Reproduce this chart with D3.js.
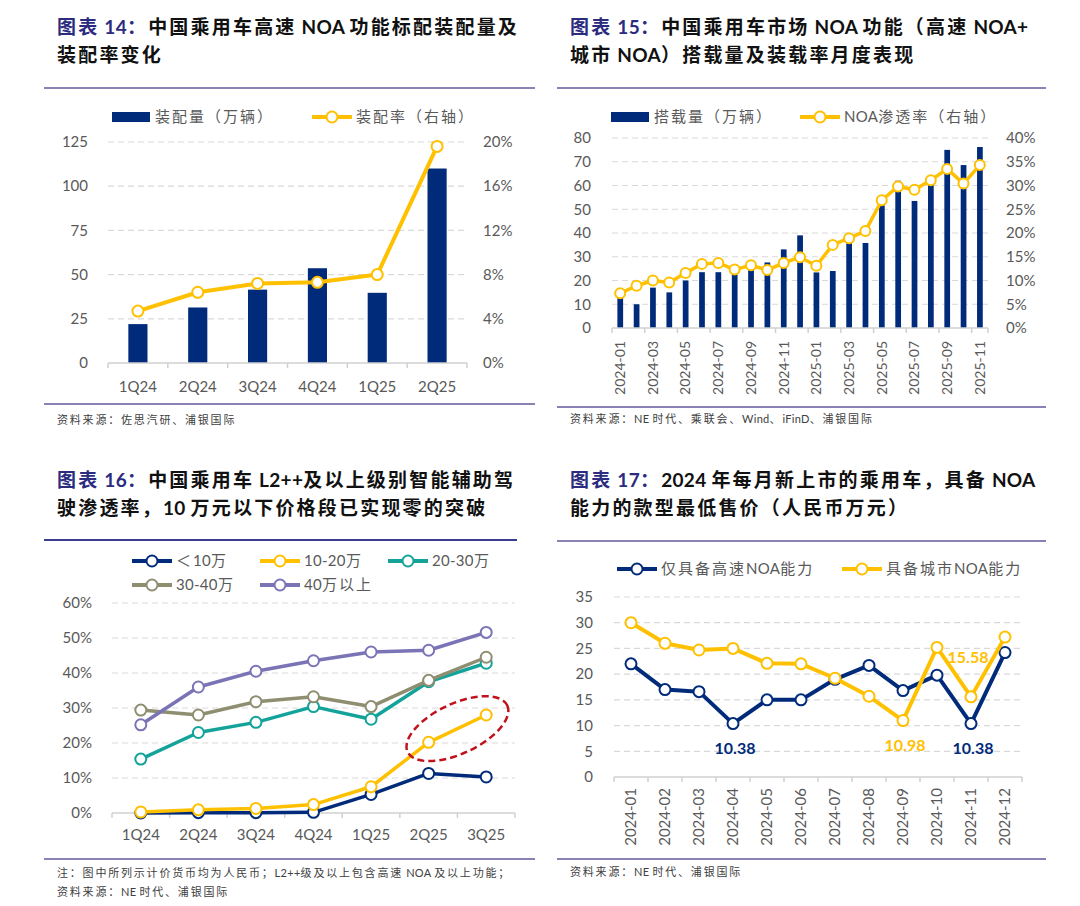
<!DOCTYPE html>
<html>
<head>
<meta charset="utf-8">
<script src="https://cdn.jsdelivr.net/npm/d3@7"></script>
<style>body{margin:0;background:#fff}</style>
</head>
<body>
<script>
// ---- data ----
const quarters14 = ['1Q24','2Q24','3Q24','4Q24','1Q25','2Q25'];
const install14 = [22, 31.4, 41.5, 53.6, 39.7, 110];      // 万辆
const rate14 = [4.7, 6.4, 7.2, 7.3, 8.0, 19.6];           // %
const ticks14L = [0,25,50,75,100,125];
const ticks14R = [0,4,8,12,16,20];

const months15 = ['2024-01','2024-02','2024-03','2024-04','2024-05','2024-06','2024-07','2024-08',
  '2024-09','2024-10','2024-11','2024-12','2025-01','2025-02','2025-03','2025-04','2025-05',
  '2025-06','2025-07','2025-08','2025-09','2025-10','2025-11'];
const volume15 = [13,10,17,15,20,23.5,23.5,23,25.5,27.6,33.1,39,23.4,24,36,35.8,51.8,62,53.5,61,75,68.6,76.2];
const pen15 = [7.3,8.9,10,9.6,11.6,13.5,13.7,12.3,13.2,12.2,13.7,14.9,13.1,17.5,18.9,20.4,26.9,29.8,29.1,31.1,33.5,30.4,34.3];
const ticks15L = [0,10,20,30,40,50,60,70,80];
const ticks15R = [0,5,10,15,20,25,30,35,40];

const quarters16 = ['1Q24','2Q24','3Q24','4Q24','1Q25','2Q25','3Q25'];
const names16 = ['＜10万','10-20万','20-30万','30-40万','40万以上'];
const under10 = [0,0.1,0.1,0.2,5.3,11.3,10.3];
const from10to20 = [0.3,0.9,1.3,2.4,7.5,20.2,28];
const from20to30 = [15.4,23,25.9,30.4,26.8,37.5,42.8];
const from30to40 = [29.4,28,31.8,33.2,30.4,37.9,44.5];
const over40 = [25.2,36,40.5,43.5,46,46.5,51.6];
const ticks16 = [0,10,20,30,40,50,60];

const months17 = ['2024-01','2024-02','2024-03','2024-04','2024-05','2024-06','2024-07','2024-08',
  '2024-09','2024-10','2024-11','2024-12'];
const names17 = ['仅具备高速NOA能力','具备城市NOA能力'];
const highway17 = [22,17,16.6,10.38,15,15,19,21.7,16.8,19.8,10.38,24.2];
const city17 = [30,26,24.7,25,22.1,22,19.2,15.7,10.98,25.2,15.58,27.2];
const ticks17 = [0,5,10,15,20,25,30,35];

// ---- style ----
const SANS = "Lato, 'Noto Sans CJK SC', sans-serif";
const NAVY = '#002a7a', GOLD = '#ffc000', TEAL = '#13a39a', OLIVE = '#8f8e70', PURPLE = '#7a73b6';
const GRID = '#d9d9d9', AX = '#595959', RULE = '#8a82b5';

const svg = d3.select('body').append('svg')
  .attr('width', 1080).attr('height', 906)
  .style('display', 'block')
  .attr('font-family', SANS);

// ---- helpers ----
// CJK runs get letter-spacing, latin runs stay tight
function spaced(t, str, ls){
  const runs = str.match(/[\u3000-\u9fff\uff00-\uffef]+|[^\u3000-\u9fff\uff00-\uffef]+/g) || [];
  runs.forEach(r => {
    const cjk = /[\u3000-\u9fff\uff00-\uffef]/.test(r);
    t.append('tspan').attr('letter-spacing', cjk ? ls : 0.3).text(r);
  });
  return t;
}
function title(x, y, label, l1, l2){
  const t = svg.append('text').attr('x', x).attr('y', y)
    .attr('font-weight', 'bold').attr('font-size', 19).attr('fill', '#111');
  spaced(t.append('tspan').attr('fill', '#2b2b80'), label, 2.2);
  spaced(t, l1, 2.2);
  const t2 = svg.append('text').attr('x', x).attr('y', y + 28)
    .attr('font-weight', 'bold').attr('font-size', 19).attr('fill', '#111');
  spaced(t2, l2, 2.2);
}
function rule(x1, x2, y, c){
  svg.append('line').attr('x1', x1).attr('x2', x2).attr('y1', y).attr('y2', y)
    .attr('stroke', c || RULE).attr('stroke-width', 2);
}
function note(x, y, s){
  const t = svg.append('text').attr('x', x).attr('y', y)
    .attr('font-size', 11).attr('fill', '#404040');
  spaced(t, s, 1.8);
}
function grid(g, y, ticks, x0, x1){
  g.selectAll(null).data(ticks.filter(d => d !== 0)).join('line')
    .attr('x1', x0).attr('x2', x1).attr('y1', d => y(d)).attr('y2', d => y(d))
    .attr('stroke', GRID).attr('stroke-width', 1.2).attr('stroke-dasharray', '6,4');
}
function yLabels(g, y, ticks, x, anchor, fmt){
  g.selectAll(null).data(ticks).join('text')
    .attr('x', x).attr('y', d => y(d)).attr('dy', '0.35em')
    .attr('text-anchor', anchor).attr('font-size', 15).attr('fill', AX)
    .text(fmt);
}
function bandAxis(g, x, y0, every){
  const r = x.range();
  g.append('line').attr('x1', r[0]).attr('x2', r[1]).attr('y1', y0).attr('y2', y0)
    .attr('stroke', '#d0d0d0').attr('stroke-width', 1.5);
  const dom = x.domain();
  const b = dom.filter((d, i) => i % every === 0).map(d => x(d));
  b.push(r[1]);
  g.selectAll(null).data(b).join('line')
    .attr('x1', d => d).attr('x2', d => d).attr('y1', y0).attr('y2', y0 + 5)
    .attr('stroke', '#d0d0d0').attr('stroke-width', 1.5);
}
function series(g, x, y, cats, vals, color, w, r){
  const cx = (d, i) => x(cats[i]) + x.bandwidth() / 2;
  g.append('path').datum(vals)
    .attr('d', d3.line().x(cx).y(d => y(d)))
    .attr('fill', 'none').attr('stroke', color).attr('stroke-width', w)
    .attr('stroke-linejoin', 'round');
  g.selectAll(null).data(vals).join('circle')
    .attr('cx', cx).attr('cy', d => y(d)).attr('r', r)
    .attr('fill', '#fff').attr('stroke', color).attr('stroke-width', 2);
}
function legendLine(g, x, y, color, label, w){
  g.append('line').attr('x1', x).attr('x2', x + 40).attr('y1', y).attr('y2', y)
    .attr('stroke', color).attr('stroke-width', w);
  g.append('circle').attr('cx', x + 20).attr('cy', y).attr('r', 5.5)
    .attr('fill', '#fff').attr('stroke', color).attr('stroke-width', 2);
  const t = g.append('text').attr('x', x + 44).attr('y', y).attr('dy', '0.35em')
    .attr('font-size', 15).attr('fill', AX);
  spaced(t, label, 2);
}
function legendBar(g, x, y, color, label){
  g.append('rect').attr('x', x).attr('y', y - 5).attr('width', 38).attr('height', 10).attr('fill', color);
  const t = g.append('text').attr('x', x + 43).attr('y', y).attr('dy', '0.35em')
    .attr('font-size', 15).attr('fill', AX);
  spaced(t, label, 2);
}

// ---- 图表 14 ----
title(57, 34, '图表 14：', '中国乘用车高速 NOA 功能标配装配量及', '装配率变化');
rule(44, 535, 88);
const g14 = svg.append('g');
const x14 = d3.scaleBand().domain(quarters14).range([108, 467]);
const yL14 = d3.scaleLinear().domain([0, 125]).range([363, 142]);
const yR14 = d3.scaleLinear().domain([0, 20]).range([363, 142]);
grid(g14, yL14, ticks14L, 108, 467);
g14.selectAll(null).data(install14).join('rect')
  .attr('x', (d, i) => x14(quarters14[i]) + x14.bandwidth() * 0.34)
  .attr('width', x14.bandwidth() * 0.32)
  .attr('y', d => yL14(d)).attr('height', d => yL14(0) - yL14(d))
  .attr('fill', NAVY);
bandAxis(g14, x14, 363, 1);
series(g14, x14, yR14, quarters14, rate14, GOLD, 4, 5.5);
yLabels(g14, yL14, ticks14L, 88, 'end', d => d);
yLabels(g14, yR14, ticks14R, 483, 'start', d => d + '%');
g14.selectAll(null).data(quarters14).join('text')
  .attr('x', d => x14(d) + x14.bandwidth() / 2).attr('y', 392)
  .attr('text-anchor', 'middle').attr('font-size', 15).attr('fill', AX).text(d => d);
legendBar(g14, 112, 117, NAVY, '装配量（万辆）');
legendLine(g14, 312, 117, GOLD, '装配率（右轴）', 4);
rule(44, 535, 404);
note(57, 424, '资料来源：佐思汽研、浦银国际');

// ---- 图表 15 ----
title(570, 34, '图表 15：', '中国乘用车市场 NOA 功能（高速 NOA+', '城市 NOA）搭载量及装载率月度表现');
rule(557, 1046, 88);
const g15 = svg.append('g');
const x15 = d3.scaleBand().domain(months15).range([612, 988]);
const yL15 = d3.scaleLinear().domain([0, 80]).range([328, 138]);
const yR15 = d3.scaleLinear().domain([0, 40]).range([328, 138]);
grid(g15, yL15, ticks15L, 612, 988);
g15.selectAll(null).data(volume15).join('rect')
  .attr('x', (d, i) => x15(months15[i]) + x15.bandwidth() * 0.33)
  .attr('width', x15.bandwidth() * 0.35)
  .attr('y', d => yL15(d)).attr('height', d => yL15(0) - yL15(d))
  .attr('fill', NAVY);
bandAxis(g15, x15, 328, 2);
series(g15, x15, yR15, months15, pen15, GOLD, 3.5, 5);
yLabels(g15, yL15, ticks15L, 591, 'end', d => d);
yLabels(g15, yR15, ticks15R, 1006, 'start', d => d + '%');
g15.selectAll(null).data(months15.filter((d, i) => i % 2 === 0)).join('text')
  .attr('transform', d => `translate(${x15(d) + x15.bandwidth() / 2},341) rotate(-90)`)
  .attr('text-anchor', 'end').attr('dy', '0.35em')
  .attr('font-size', 14).attr('fill', AX).text(d => d);
legendBar(g15, 611, 117, NAVY, '搭载量（万辆）');
legendLine(g15, 800, 117, GOLD, 'NOA渗透率（右轴）', 4);
rule(557, 1046, 407);
note(570, 423, '资料来源：NE 时代、乘联会、Wind、iFinD、浦银国际');

// ---- 图表 16 ----
title(57, 487, '图表 16：', '中国乘用车 L2++及以上级别智能辅助驾', '驶渗透率，10 万元以下价格段已实现零的突破');
rule(44, 517, 540, '#3d3d8f');
const g16 = svg.append('g');
const x16 = d3.scaleBand().domain(quarters16).range([112, 515]);
const y16 = d3.scaleLinear().domain([0, 60]).range([813, 603]);
grid(g16, y16, ticks16, 112, 515);
bandAxis(g16, x16, 813, 1);
const series16 = [under10, from10to20, from20to30, from30to40, over40];
const colors16 = [NAVY, GOLD, TEAL, OLIVE, PURPLE];
series16.forEach((s, k) => series(g16, x16, y16, quarters16, s, colors16[k], 3.5, 5.5));
yLabels(g16, y16, ticks16, 92, 'end', d => d + '%');
g16.selectAll(null).data(quarters16).join('text')
  .attr('x', d => x16(d) + x16.bandwidth() / 2).attr('y', 840)
  .attr('text-anchor', 'middle').attr('font-size', 15).attr('fill', AX).text(d => d);
// red dashed ellipse around the 10-20万 jump
const ex = (x16('2Q25') + x16('3Q25')) / 2 + x16.bandwidth() / 2;
const ey = (y16(from10to20[5]) + y16(from10to20[6])) / 2;
g16.append('ellipse').attr('cx', ex).attr('cy', ey).attr('rx', 55).attr('ry', 25)
  .attr('transform', `rotate(-25,${ex},${ey})`)
  .attr('fill', 'none').attr('stroke', '#c0121c').attr('stroke-width', 2.5)
  .attr('stroke-dasharray', '7,4');
const legPos16 = [[132, 561], [260, 561], [388, 561], [132, 585], [260, 585]];
names16.forEach((n, k) => legendLine(g16, legPos16[k][0], legPos16[k][1], colors16[k], n, 4));
rule(44, 535, 859);
note(57, 877, '注：图中所列示计价货币均为人民币；L2++级及以上包含高速 NOA 及以上功能；');
note(57, 896, '资料来源：NE 时代、浦银国际');

// ---- 图表 17 ----
title(570, 487, '图表 17：', '2024 年每月新上市的乘用车，具备 NOA', '能力的款型最低售价（人民币万元）');
rule(557, 1046, 541);
const g17 = svg.append('g');
const x17 = d3.scaleBand().domain(months17).range([614, 1022]);
const y17 = d3.scaleLinear().domain([0, 35]).range([777, 597]);
grid(g17, y17, ticks17, 614, 1022);
bandAxis(g17, x17, 777, 1);
series(g17, x17, y17, months17, highway17, NAVY, 4, 5.5);
series(g17, x17, y17, months17, city17, GOLD, 4, 5.5);
yLabels(g17, y17, ticks17, 593, 'end', d => d);
g17.selectAll(null).data(months17).join('text')
  .attr('transform', d => `translate(${x17(d) + x17.bandwidth() / 2},788) rotate(-90)`)
  .attr('text-anchor', 'end').attr('dy', '0.35em')
  .attr('font-size', 15).attr('fill', AX).text(d => d);
// value call-outs
const callouts17 = [
  {vals: highway17, i: 3, color: NAVY, dx: 2, dy: 30},
  {vals: city17, i: 8, color: GOLD, dx: 2, dy: 30},
  {vals: highway17, i: 10, color: NAVY, dx: 2, dy: 30},
  {vals: city17, i: 10, color: GOLD, dx: -3, dy: -34}
];
callouts17.forEach(c => {
  g17.append('text')
    .attr('x', x17(months17[c.i]) + x17.bandwidth() / 2 + c.dx)
    .attr('y', y17(c.vals[c.i]) + c.dy)
    .attr('text-anchor', 'middle').attr('font-size', 16).attr('font-weight', 'bold')
    .attr('fill', c.color).text(c.vals[c.i].toFixed(2));
});
legendLine(g17, 617, 569, NAVY, names17[0], 4);
legendLine(g17, 842, 569, GOLD, names17[1], 4);
rule(557, 1046, 859);
note(570, 876, '资料来源：NE 时代、浦银国际');
</script>
</body>
</html>
